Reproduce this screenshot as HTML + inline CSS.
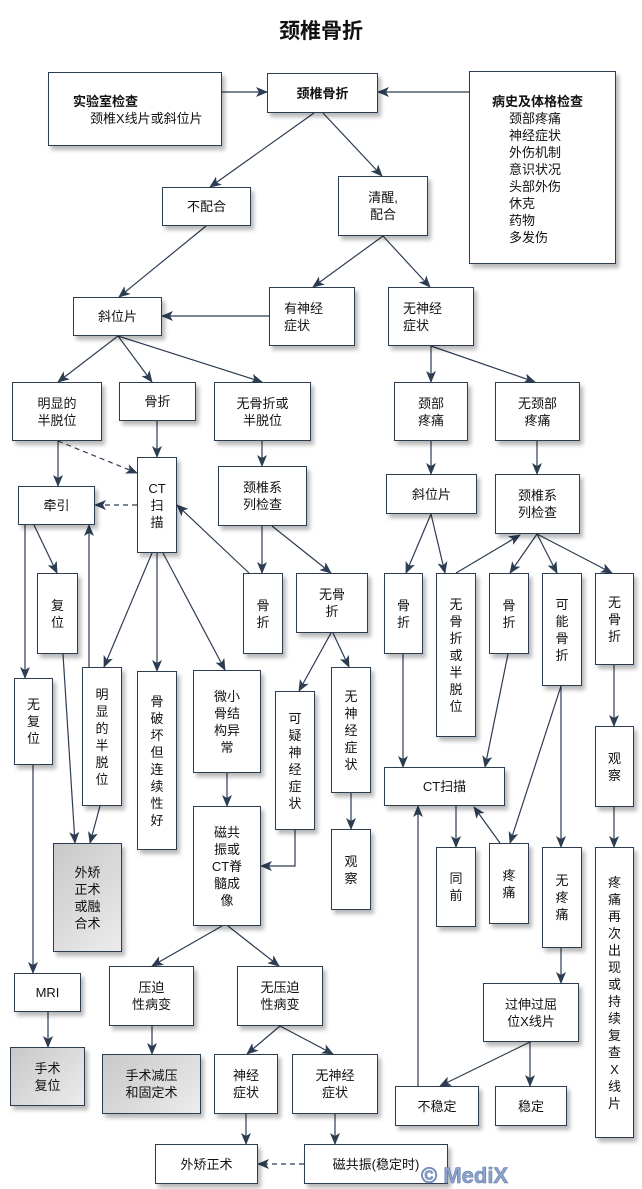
<!DOCTYPE html>
<html><head><meta charset="utf-8">
<style>
html,body{margin:0;padding:0;background:#fff;}
body{width:642px;height:1188px;position:relative;overflow:hidden;font-family:"Liberation Sans","Noto Sans CJK SC",sans-serif;color:#111;}
.b{position:absolute;box-sizing:border-box;border:1.3px solid #2c3d52;background:#fff;box-shadow:3px 4px 4px rgba(0,0,0,0.28);display:flex;flex-direction:column;align-items:center;justify-content:center;font-size:13px;line-height:17px;text-align:center;z-index:2;}
.g{background:linear-gradient(135deg,#c8c8c8,#ececec);}
.l{align-items:flex-start;padding-left:14px;text-align:left;}
svg{position:absolute;left:0;top:0;z-index:1;}
.t{position:absolute;font-size:13px;line-height:17px;z-index:3;}
</style></head><body>
<div style="position:absolute;left:0;width:642px;top:19px;text-align:center;font-size:21px;font-weight:bold;line-height:26px;">颈椎骨折</div>

<svg width="642" height="1188">
<defs><marker id="a" markerUnits="userSpaceOnUse" markerWidth="12" markerHeight="10" refX="11" refY="5" orient="auto"><path d="M0,0 L12,5 L0,10 L3,5 z" fill="#2c3d52"/></marker></defs>
<g stroke="#2c3d52" stroke-width="1.2" fill="none" marker-end="url(#a)">
<line x1="222" y1="92" x2="267" y2="92"/>
<line x1="469" y1="92" x2="378" y2="92"/>
<line x1="314" y1="113" x2="210" y2="187"/>
<line x1="323" y1="113" x2="382" y2="176"/>
<line x1="206" y1="226" x2="119" y2="297"/>
<line x1="383" y1="236" x2="313" y2="287"/>
<line x1="383" y1="236" x2="430" y2="287"/>
<line x1="269" y1="316" x2="162" y2="316"/>
<line x1="118" y1="336" x2="58" y2="382"/>
<line x1="118" y1="336" x2="152" y2="382"/>
<line x1="118" y1="336" x2="262" y2="382"/>
<line x1="431" y1="346" x2="431" y2="382"/>
<line x1="431" y1="346" x2="535" y2="382"/>
<line x1="58" y1="441" x2="58" y2="486"/>
<line x1="58" y1="441" x2="137" y2="473" stroke-dasharray="5,4"/>
<line x1="157" y1="421" x2="157" y2="457"/>
<line x1="262" y1="441" x2="262" y2="466"/>
<line x1="137" y1="505" x2="95" y2="505" stroke-dasharray="5,4"/>
<line x1="262" y1="526" x2="262" y2="573"/>
<line x1="272" y1="526" x2="331" y2="573"/>
<line x1="249" y1="573" x2="177" y2="505"/>
<line x1="152" y1="553" x2="104" y2="667"/>
<line x1="157" y1="553" x2="157" y2="671"/>
<line x1="163" y1="553" x2="225" y2="670"/>
<line x1="34" y1="525" x2="57" y2="573"/>
<line x1="25" y1="525" x2="25" y2="678"/>
<line x1="89" y1="667" x2="89" y2="525"/>
<line x1="63" y1="654" x2="75" y2="843"/>
<line x1="100" y1="806" x2="90" y2="843"/>
<line x1="33" y1="765" x2="33" y2="973"/>
<line x1="48" y1="1012" x2="48" y2="1047"/>
<line x1="227" y1="773" x2="227" y2="806"/>
<polyline points="295,830 295,866 261,866"/>
<line x1="331" y1="633" x2="299" y2="691"/>
<line x1="333" y1="633" x2="349" y2="667"/>
<line x1="351" y1="793" x2="351" y2="829"/>
<line x1="222" y1="926" x2="152" y2="966"/>
<line x1="228" y1="926" x2="279" y2="966"/>
<line x1="152" y1="1026" x2="152" y2="1054"/>
<line x1="280" y1="1026" x2="247" y2="1054"/>
<line x1="280" y1="1026" x2="333" y2="1054"/>
<line x1="246" y1="1114" x2="246" y2="1144"/>
<line x1="335" y1="1114" x2="335" y2="1144"/>
<line x1="304" y1="1164" x2="258" y2="1164" stroke-dasharray="5,4"/>
<line x1="431" y1="441" x2="431" y2="474"/>
<line x1="537" y1="441" x2="537" y2="474"/>
<line x1="431" y1="514" x2="406" y2="573"/>
<line x1="431" y1="514" x2="445" y2="573"/>
<line x1="456" y1="573" x2="520" y2="535"/>
<line x1="537" y1="534" x2="510" y2="573"/>
<line x1="537" y1="534" x2="557" y2="573"/>
<line x1="537" y1="534" x2="612" y2="573"/>
<line x1="403" y1="654" x2="403" y2="767"/>
<line x1="508" y1="654" x2="485" y2="767"/>
<line x1="561" y1="686" x2="510" y2="843"/>
<line x1="500" y1="843" x2="474" y2="807"/>
<line x1="561" y1="686" x2="561" y2="847"/>
<line x1="456" y1="806" x2="456" y2="847"/>
<line x1="561" y1="948" x2="561" y2="983"/>
<line x1="530" y1="1042" x2="440" y2="1086"/>
<line x1="530" y1="1042" x2="530" y2="1086"/>
<line x1="418" y1="1086" x2="418" y2="806"/>
<line x1="614" y1="665" x2="614" y2="726"/>
<line x1="614" y1="807" x2="614" y2="847"/>
</g>
</svg>

<div class="b" style="left:48px;top:72px;width:174px;height:74px;"></div>
<div class="t" style="left:73px;top:93px;font-weight:bold;">实验室检查</div>
<div class="t" style="left:90px;top:110px;">颈椎X线片或斜位片</div>
<div class="b" style="left:267px;top:73px;width:111px;height:40px;font-weight:bold;">颈椎骨折</div>
<div class="b" style="left:469px;top:71px;width:147px;height:193px;"></div>
<div class="t" style="left:492px;top:93px;font-weight:bold;">病史及体格检查</div>
<div class="t" style="left:509px;top:110px;">颈部疼痛<br>神经症状<br>外伤机制<br>意识状况<br>头部外伤<br>休克<br>药物<br>多发伤</div>

<div class="b" style="left:162px;top:187px;width:89px;height:39px;">不配合</div>
<div class="b" style="left:338px;top:176px;width:90px;height:60px;">清醒,<br>配合</div>
<div class="b" style="left:73px;top:297px;width:89px;height:39px;">斜位片</div>
<div class="b l" style="left:269px;top:287px;width:86px;height:59px;">有神经<br>症状</div>
<div class="b l" style="left:388px;top:287px;width:86px;height:59px;">无神经<br>症状</div>
<div class="b" style="left:12px;top:382px;width:90px;height:59px;">明显的<br>半脱位</div>
<div class="b" style="left:119px;top:382px;width:77px;height:39px;">骨折</div>
<div class="b" style="left:214px;top:382px;width:97px;height:59px;">无骨折或<br>半脱位</div>
<div class="b" style="left:394px;top:382px;width:74px;height:59px;">颈部<br>疼痛</div>
<div class="b" style="left:495px;top:382px;width:85px;height:59px;">无颈部<br>疼痛</div>

<div class="b" style="left:137px;top:457px;width:40px;height:96px;">CT<br>扫<br>描</div>
<div class="b" style="left:18px;top:486px;width:77px;height:39px;">牵引</div>
<div class="b" style="left:218px;top:466px;width:89px;height:60px;">颈椎系<br>列检查</div>
<div class="b" style="left:386px;top:474px;width:91px;height:40px;">斜位片</div>
<div class="b" style="left:495px;top:474px;width:85px;height:60px;">颈椎系<br>列检查</div>

<div class="b" style="left:37px;top:573px;width:41px;height:81px;">复<br>位</div>
<div class="b" style="left:243px;top:573px;width:40px;height:81px;">骨<br>折</div>
<div class="b" style="left:296px;top:573px;width:72px;height:60px;">无骨<br>折</div>
<div class="b" style="left:384px;top:573px;width:39px;height:81px;">骨<br>折</div>
<div class="b" style="left:436px;top:573px;width:40px;height:164px;">无<br>骨<br>折<br>或<br>半<br>脱<br>位</div>
<div class="b" style="left:489px;top:573px;width:40px;height:81px;">骨<br>折</div>
<div class="b" style="left:542px;top:573px;width:40px;height:113px;">可<br>能<br>骨<br>折</div>
<div class="b" style="left:595px;top:573px;width:39px;height:92px;">无<br>骨<br>折</div>

<div class="b" style="left:14px;top:678px;width:39px;height:87px;">无<br>复<br>位</div>
<div class="b" style="left:82px;top:667px;width:40px;height:139px;">明<br>显<br>的<br>半<br>脱<br>位</div>
<div class="b" style="left:137px;top:671px;width:40px;height:179px;">骨<br>破<br>坏<br>但<br>连<br>续<br>性<br>好</div>
<div class="b" style="left:193px;top:670px;width:68px;height:103px;">微小<br>骨结<br>构异<br>常</div>
<div class="b" style="left:275px;top:691px;width:40px;height:139px;">可<br>疑<br>神<br>经<br>症<br>状</div>
<div class="b" style="left:331px;top:667px;width:40px;height:126px;">无<br>神<br>经<br>症<br>状</div>
<div class="b" style="left:384px;top:767px;width:121px;height:39px;">CT扫描</div>
<div class="b" style="left:595px;top:726px;width:39px;height:81px;">观<br>察</div>

<div class="b g" style="left:53px;top:843px;width:69px;height:109px;">外矫<br>正术<br>或融<br>合术</div>
<div class="b" style="left:193px;top:806px;width:68px;height:120px;">磁共<br>振或<br>CT脊<br>髓成<br>像</div>
<div class="b" style="left:331px;top:829px;width:40px;height:81px;">观<br>察</div>
<div class="b" style="left:436px;top:847px;width:40px;height:80px;">同<br>前</div>
<div class="b" style="left:489px;top:843px;width:40px;height:81px;">疼<br>痛</div>
<div class="b" style="left:542px;top:847px;width:40px;height:101px;">无<br>疼<br>痛</div>
<div class="b" style="left:595px;top:847px;width:39px;height:291px;">疼<br>痛<br>再<br>次<br>出<br>现<br>或<br>持<br>续<br>复<br>查<br>X<br>线<br>片</div>

<div class="b" style="left:14px;top:973px;width:67px;height:39px;">MRI</div>
<div class="b" style="left:109px;top:966px;width:85px;height:60px;">压迫<br>性病变</div>
<div class="b" style="left:237px;top:966px;width:86px;height:60px;">无压迫<br>性病变</div>
<div class="b" style="left:483px;top:983px;width:96px;height:59px;">过伸过屈<br>位X线片</div>
<div class="b g" style="left:10px;top:1047px;width:75px;height:59px;">手术<br>复位</div>
<div class="b g" style="left:102px;top:1054px;width:99px;height:60px;">手术减压<br>和固定术</div>
<div class="b" style="left:214px;top:1054px;width:64px;height:60px;">神经<br>症状</div>
<div class="b" style="left:292px;top:1054px;width:86px;height:60px;">无神经<br>症状</div>
<div class="b" style="left:395px;top:1086px;width:84px;height:40px;">不稳定</div>
<div class="b" style="left:495px;top:1086px;width:72px;height:40px;">稳定</div>
<div class="b" style="left:155px;top:1144px;width:103px;height:40px;">外矫正术</div>
<div class="b" style="left:304px;top:1144px;width:144px;height:40px;">磁共振(稳定时)</div>
<div style="position:absolute;left:421px;top:1163px;font-size:22px;font-weight:bold;line-height:26px;color:#8ea4cc;-webkit-text-stroke:0.6px #5f78a8;z-index:4;font-family:'Liberation Sans',sans-serif;">© MediX</div>
</body></html>
